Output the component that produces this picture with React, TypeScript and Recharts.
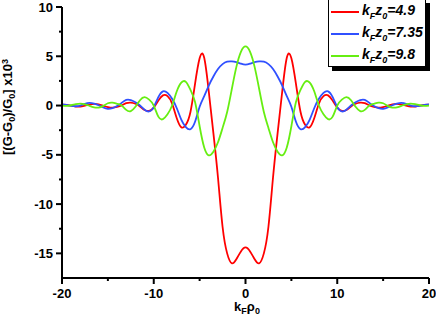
import { LineChart, Line, XAxis, YAxis } from 'recharts';

// k_F * rho_0
const rho = [
  -20, -19.5, -19, -18.5, -18, -17.5, -17, -16.5, -16, -15.5, -15, -14.5, -14, -13.5, -13, -12.5, -12, -11.5, -11, -10.5,
  -10, -9.5, -9, -8.5, -8, -7.5, -7, -6.5, -6, -5.5, -5, -4.5, -4, -3.5, -3, -2.5, -2, -1.5, -1, -0.5,
  0, 0.5, 1, 1.5, 2, 2.5, 3, 3.5, 4, 4.5, 5, 5.5, 6, 6.5, 7, 7.5, 8, 8.5, 9, 9.5,
  10, 10.5, 11, 11.5, 12, 12.5, 13, 13.5, 14, 14.5, 15, 15.5, 16, 16.5, 17, 17.5, 18, 18.5, 19, 19.5, 20,
];

// kFz0 = 4.9
const red = [
  0.1, 0.07, -0.02, -0.1, -0.1, 0.0, 0.1, 0.17, 0.12, -0.02, -0.15, -0.22, -0.14, 0.02, 0.24, 0.3, 0.18, -0.09, -0.45, -0.54,
  -0.21, 0.5, 1.03, 0.95, 0.19, -1.27, -2.2, -1.95, -0.65, 2.2, 4.8, 4.85, 1.4, -2.8, -7.3, -12.3, -15.0, -16.0, -15.6, -14.8,
  -14.4, -14.8, -15.6, -16.0, -15.0, -12.3, -7.3, -2.8, 1.4, 4.85, 4.8, 2.2, -0.65, -1.95, -2.2, -1.27, 0.19, 0.95, 1.03, 0.5,
  -0.21, -0.54, -0.45, -0.09, 0.18, 0.3, 0.24, 0.02, -0.14, -0.22, -0.15, -0.02, 0.12, 0.17, 0.1, 0.0, -0.1, -0.1, -0.02, 0.07, 0.1,
];

// kFz0 = 7.35
const blue = [
  0.12, 0.06, -0.03, -0.07, 0.0, 0.18, 0.27, 0.2, 0.03, -0.2, -0.33, -0.26, -0.05, 0.27, 0.58, 0.56, 0.34, 0.0, -0.42, -0.6,
  -0.16, 0.85, 1.44, 1.28, 0.68, -0.25, -1.43, -2.2, -2.4, -1.65, -0.12, 0.95, 2.03, 2.95, 3.7, 4.2, 4.45, 4.48, 4.4, 4.25,
  4.15, 4.25, 4.4, 4.48, 4.45, 4.2, 3.7, 2.95, 2.03, 0.95, -0.12, -1.65, -2.4, -2.2, -1.43, -0.25, 0.68, 1.28, 1.44, 0.85,
  -0.16, -0.6, -0.42, 0.0, 0.34, 0.56, 0.58, 0.27, -0.05, -0.26, -0.33, -0.2, 0.03, 0.2, 0.27, 0.18, 0.0, -0.07, -0.03, 0.06, 0.12,
];

// kFz0 = 9.8
const green = [
  0.0, -0.03, 0.03, 0.14, 0.2, 0.13, -0.03, -0.18, -0.2, -0.03, 0.23, 0.29, 0.18, 0.0, -0.44, -0.56, -0.13, 0.54, 0.85, 0.6,
  0.0, -1.13, -1.38, -0.88, 0.0, 1.42, 2.33, 2.4, 1.6, 0.36, -2.1, -4.25, -5.05, -4.69, -3.73, -2.28, -0.65, 1.63, 3.9, 5.45,
  6.0, 5.45, 3.9, 1.63, -0.65, -2.28, -3.73, -4.69, -5.05, -4.25, -2.1, 0.36, 1.6, 2.4, 2.33, 1.42, 0.0, -0.88, -1.38, -1.13,
  0.0, 0.6, 0.85, 0.54, -0.13, -0.56, -0.44, 0.0, 0.18, 0.29, 0.23, -0.03, -0.2, -0.18, -0.03, 0.13, 0.2, 0.14, 0.03, -0.03, 0.0,
];

const xTicks = [-20, -15, -10, -5, 0, 5, 10, 15, 20];
const xLabels = [-20, -10, 0, 10, 20];
const yTicks = [-15, -12.5, -10, -7.5, -5, -2.5, 0, 2.5, 5, 7.5, 10];
const yLabels = [-15, -10, -5, 0, 5, 10];

const series = [
  { key: 'red', color: '#ff0000', z: '4.9' },
  { key: 'blue', color: '#3050ff', z: '7.35' },
  { key: 'green', color: '#66ee11', z: '9.8' },
];

const data = rho.map((x, i) => ({ x, red: red[i], blue: blue[i], green: green[i] }));

const FONT = '"Liberation Sans", Arial, sans-serif';

function YTick(props: any) {
  const { x, y, payload } = props;
  const major = yLabels.includes(payload.value);
  const ax = x + 9;
  return (
    <g>
      <line x1={ax - (major ? 6 : 3)} x2={ax} y1={y} y2={y} stroke="#000" strokeWidth={2} />
      {major && (
        <text x={x} y={y} dy="0.36em" textAnchor="end" fontFamily={FONT} fontWeight="bold" fontSize={13} fill="#000">
          {payload.value}
        </text>
      )}
    </g>
  );
}

function XTick(props: any) {
  const { x, y, payload } = props;
  const major = xLabels.includes(payload.value);
  const ay = y - 11;
  return (
    <g>
      <line x1={x} x2={x} y1={ay} y2={ay + (major ? 6 : 3)} stroke="#000" strokeWidth={2} />
      {major && (
        <text x={x} y={y} dy="0.71em" textAnchor="middle" fontFamily={FONT} fontWeight="bold" fontSize={13} fill="#000">
          {payload.value}
        </text>
      )}
    </g>
  );
}

function XTitle() {
  return (
    <text x={247} y={311} textAnchor="middle" fontFamily={FONT} fontWeight="bold" fontSize={13} fill="#000">
      k<tspan dy={3} fontSize={9}>F</tspan>
      <tspan dy={-3}>ρ</tspan>
      <tspan dy={3} fontSize={9}>0</tspan>
    </text>
  );
}

function YTitle() {
  return (
    <text
      x={12}
      y={107}
      transform="rotate(-90 12 107)"
      textAnchor="middle"
      fontFamily={FONT}
      fontWeight="bold"
      fontSize={13}
      fill="#000"
    >
      [(G-G<tspan dy={3} fontSize={9}>0</tspan>
      <tspan dy={-3}>)/G</tspan>
      <tspan dy={3} fontSize={9}>0</tspan>
      <tspan dy={-3}>] x10</tspan>
      <tspan dy={-4} fontSize={9}>3</tspan>
    </text>
  );
}

function LegendBox() {
  return (
    <div
      style={{
        position: 'absolute',
        left: 328,
        top: -1,
        width: 96,
        height: 66,
        border: '1px solid #000',
        background: '#fff',
        boxShadow: '4px 4px 0 #000',
        fontFamily: FONT,
      }}
    >
      {series.map((s) => (
        <div key={s.key} style={{ position: 'relative', height: 22 }}>
          <div style={{ position: 'absolute', left: 2, top: 11, width: 28, height: 2, background: s.color }} />
          <div
            style={{
              position: 'absolute',
              left: 33,
              top: 2,
              fontSize: 14,
              fontWeight: 'bold',
              fontStyle: 'italic',
              whiteSpace: 'nowrap',
              lineHeight: '16px',
            }}
          >
            k<span style={{ fontSize: 9, position: 'relative', top: 4 }}>F</span>z
            <span style={{ fontSize: 9, position: 'relative', top: 4 }}>0</span>={s.z}
          </div>
        </div>
      ))}
    </div>
  );
}

export default function App() {
  return (
    <div style={{ position: 'absolute', left: 0, top: 0, width: 436, height: 317, background: '#fff' }}>
      <LineChart width={436} height={317} data={data} margin={{ top: 7, right: 7, left: 0, bottom: 0 }}>
        <XAxis
          dataKey="x"
          type="number"
          domain={[-20, 20]}
          ticks={xTicks}
          interval={0}
          height={39}
          tickSize={6}
          tickMargin={5}
          tickLine={false}
          tick={<XTick />}
          axisLine={{ stroke: '#000', strokeWidth: 2 }}
          label={<XTitle />}
        />
        <YAxis
          type="number"
          domain={[-17.5, 10]}
          ticks={yTicks}
          interval={0}
          width={62}
          tickSize={6}
          tickMargin={3}
          tickLine={false}
          tick={<YTick />}
          axisLine={{ stroke: '#000', strokeWidth: 2 }}
          allowDataOverflow
          label={<YTitle />}
        />
        {series.map((s) => (
          <Line
            key={s.key}
            dataKey={s.key}
            type="natural"
            stroke={s.color}
            strokeWidth={1.8}
            dot={false}
            isAnimationActive={false}
          />
        ))}
      </LineChart>
      <LegendBox />
    </div>
  );
}
